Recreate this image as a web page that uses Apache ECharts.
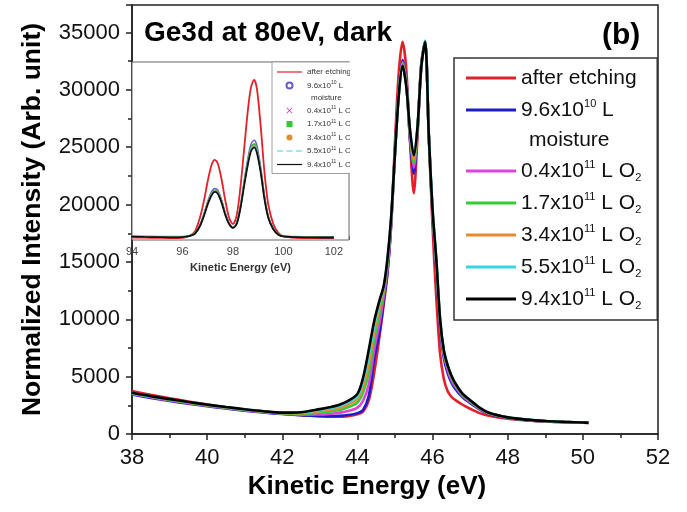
<!DOCTYPE html>
<html lang="en">
<head>
<meta charset="UTF-8">
<title>Ge3d at 80eV, dark</title>
<script src="https://cdn.jsdelivr.net/npm/echarts@6/dist/echarts.min.js"></script>
<style>
    html, body { margin: 0; padding: 0; background: #fff; }
    #main { width: 687px; height: 512px; }
</style>
</head>
<body>
<div id="main"></div>
<script>
// main plot: Ge3d spectra (kinetic energy, eV)
var energy = [38, 38.5, 39, 39.5, 40, 40.5, 41, 41.5, 42, 42.5, 43, 43.25, 43.5, 43.75, 44, 44.15, 44.3, 44.45, 44.6, 44.7,
    44.8, 44.9, 45.0, 45.1, 45.2, 45.3, 45.4, 45.5, 45.6, 45.7, 45.8, 45.9, 46.0, 46.1, 46.2, 46.3, 46.4, 46.5, 46.6, 46.8,
    47.0, 47.25, 47.5, 48, 48.5, 49, 49.5, 50, 50.15];

var afterEtching = [3750, 3420, 3120, 2840, 2570, 2330, 2110, 1920, 1760, 1630, 1540, 1500, 1500, 1560, 1720, 1950, 2900, 5400, 8800, 11300,
    14000, 18500, 25500, 31500, 34200, 31800, 25500, 21000, 26000, 32300, 34200, 26000, 18000, 11800, 7000, 4800, 3750, 3250, 2980, 2550,
    2200, 1820, 1600, 1340, 1190, 1090, 1030, 990, 970];
var moisture = [3450, 3150, 2880, 2640, 2420, 2220, 2030, 1870, 1740, 1640, 1580, 1560, 1580, 1650, 1820, 2100, 3300, 6600, 9100, 11600,
    14100, 18300, 24700, 30000, 32600, 30800, 25600, 22700, 26500, 32200, 34100, 26000, 19000, 14300, 9300, 6600, 5300, 4500, 3950, 3200,
    2700, 2150, 1750, 1400, 1210, 1100, 1040, 990, 970];
var o2_04 = [3500, 3200, 2930, 2690, 2460, 2260, 2070, 1900, 1770, 1690, 1700, 1750, 1850, 2000, 2300, 2900, 4300, 7400, 9900, 12000,
    14500, 18500, 24600, 29800, 32400, 30600, 25900, 23200, 26600, 32200, 34100, 26000, 19200, 14600, 9600, 6900, 5600, 4700, 4150, 3300,
    2800, 2200, 1780, 1420, 1230, 1110, 1050, 995, 975];
var o2_17 = [3550, 3240, 2970, 2720, 2490, 2290, 2100, 1940, 1800, 1760, 1850, 1950, 2080, 2330, 2750, 3600, 5300, 8300, 10700, 12400,
    14800, 18700, 24500, 29700, 32300, 30500, 26000, 23600, 26700, 32100, 34200, 26000, 19300, 14800, 9800, 7100, 5800, 4900, 4300, 3400,
    2870, 2250, 1810, 1430, 1240, 1120, 1055, 1000, 978];
var o2_34 = [3560, 3260, 3000, 2750, 2520, 2310, 2120, 1960, 1830, 1820, 1980, 2100, 2250, 2560, 3050, 4100, 6100, 9000, 11200, 12600,
    15000, 18800, 24500, 29600, 32200, 30400, 26200, 23900, 26700, 32000, 34200, 26000, 19400, 15000, 9900, 7200, 5900, 5000, 4380, 3450,
    2920, 2280, 1830, 1440, 1245, 1125, 1058, 1000, 979];
var o2_55 = [3580, 3280, 3020, 2770, 2540, 2330, 2140, 1980, 1850, 1870, 2100, 2250, 2420, 2750, 3300, 4600, 6800, 9500, 11600, 12800,
    15200, 19000, 24500, 29500, 32100, 30400, 26500, 24300, 26900, 32000, 34300, 26200, 19600, 15200, 10100, 7300, 6000, 5100, 4450, 3500,
    2950, 2300, 1850, 1450, 1250, 1130, 1060, 1000, 980];
var o2_94 = [3600, 3300, 3040, 2790, 2560, 2350, 2160, 1990, 1860, 1900, 2170, 2330, 2530, 2880, 3500, 4900, 7300, 9900, 11800, 12900,
    15300, 19000, 24500, 29500, 32100, 30300, 26500, 24300, 26800, 32000, 34200, 26000, 19500, 15200, 10000, 7300, 6000, 5100, 4450, 3500,
    2950, 2300, 1850, 1450, 1250, 1130, 1060, 1000, 980];

// inset: Cl2p at 300eV (arbitrary intensity scale 0-100)
var insetEnergy = [93.9, 94.5, 95, 95.5, 96, 96.3, 96.5, 96.7, 96.85, 97.0, 97.15, 97.28, 97.4, 97.55, 97.7, 97.85, 98.0, 98.15, 98.3, 98.45,
    98.6, 98.72, 98.84, 98.95, 99.1, 99.25, 99.4, 99.6, 99.8, 100.0, 100.5, 101, 101.5, 102];
var clAfterEtching = [1.5, 1.3, 1.2, 1.1, 1.2, 2.5, 5, 13, 22, 33, 42, 45, 43, 34, 22, 12.5, 9, 14, 30, 52,
    74, 86, 90, 85, 64, 38, 20, 9, 4, 2, 1.2, 1.1, 1, 1];
var clMoisture = [2.0, 1.8, 1.7, 1.6, 1.7, 2.4, 3.8, 8.6, 14.5, 21.5, 27, 29, 28, 22.5, 15, 9.5, 7.2, 9.6, 19.5, 33.5,
    46.5, 54, 56, 53, 41, 25, 13.5, 6.5, 3.2, 2.1, 1.7, 1.6, 1.5, 1.5];
var clO2_04 = [2.0, 1.8, 1.7, 1.6, 1.7, 2.4, 3.7, 8.4, 14.2, 21, 26.2, 28, 27, 22, 14.6, 9.3, 7.0, 9.4, 18.8, 32.4,
    45, 52, 54, 51, 39.5, 24, 13, 6.3, 3.1, 2.1, 1.7, 1.6, 1.5, 1.5];
var clO2_17 = [2.3, 2.1, 2.0, 1.9, 2.0, 2.6, 3.9, 8.5, 14.2, 21, 26.2, 28, 27, 22, 14.6, 9.4, 7.1, 9.5, 18.8, 32.4,
    45, 52, 54, 51, 39.5, 24, 13, 6.4, 3.3, 2.3, 1.9, 1.8, 1.7, 1.7];
var clO2_34 = [2.0, 1.8, 1.7, 1.6, 1.7, 2.3, 3.7, 8.2, 13.9, 20.6, 25.7, 27.5, 26.5, 21.5, 14.3, 9.2, 6.9, 9.2, 18.4, 31.8,
    44, 51, 53, 50, 38.8, 23.5, 12.8, 6.2, 3.1, 2.1, 1.7, 1.6, 1.5, 1.5];
var clO2_55 = [2.0, 1.8, 1.7, 1.6, 1.7, 2.3, 3.7, 8.2, 13.9, 20.6, 25.7, 27.5, 26.5, 21.5, 14.3, 9.2, 6.9, 9.2, 18.4, 31.8,
    44, 51, 53, 50, 38.8, 23.5, 12.8, 6.2, 3.1, 2.1, 1.7, 1.6, 1.5, 1.5];
var clO2_94 = [1.9, 1.7, 1.6, 1.5, 1.6, 2.3, 3.6, 8, 13.5, 20, 25, 27, 26, 21, 14, 9, 6.8, 9, 18, 31,
    43, 50, 52, 49, 38, 23, 12.5, 6, 3, 2, 1.6, 1.5, 1.4, 1.4];

// legend names and their rich-text labels
var seriesNames = ['after etching', '9.6x10^10 L', 'moisture', '0.4x10^11 L O2', '1.7x10^11 L O2', '3.4x10^11 L O2', '5.5x10^11 L O2', '9.4x10^11 L O2'];
var legendLabels = ['after etching', '9.6x10{sup|10} L', '{m|moisture}', '0.4x10{sup|11} L O{sub|2}', '1.7x10{sup|11} L O{sub|2}',
    '3.4x10{sup|11} L O{sub|2}', '5.5x10{sup|11} L O{sub|2}', '9.4x10{sup|11} L O{sub|2}'];
var seriesColors = ['#e3202a', '#1c1ccc', 'rgba(0,0,0,0)', '#e040e0', '#34cc34', '#e68a30', '#38d6e4', '#000000'];

var mainData = [afterEtching, moisture, null, o2_04, o2_17, o2_34, o2_55, o2_94];
var insetData = [clAfterEtching, clMoisture, null, clO2_04, clO2_17, clO2_34, clO2_55, clO2_94];
var insetColors = ['#e3202a', '#6a5ccc', 'rgba(0,0,0,0)', '#c040d0', '#34c834', '#e68a30', '#38d6e4', '#111111'];
var LINE_ICON = 'path://M0,0H25V1.2H0Z';
var DASH_ICON = 'path://M0,0H6V1.2H0ZM9.5,0H15.5V1.2H9.5ZM19,0H25V1.2H19Z';
var insetIcons = [LINE_ICON, 'emptyCircle', 'none', 'path://M0,1L1,0L5,4L9,0L10,1L6,5L10,9L9,10L5,6L1,10L0,9L4,5Z',
    'path://M0,0H1V1H0Z', 'circle', DASH_ICON, LINE_ICON];

var FONT = 'Liberation Sans';

function pairs(xs, ys) {
    return xs.map(function (x, i) {
        return [x, ys[i]];
    });
}

var series = [];
seriesNames.forEach(function (name, i) {
    series.push({
        type: 'line', name: name, xAxisIndex: 0, yAxisIndex: 0,
        data: mainData[i] ? pairs(energy, mainData[i]) : [],
        symbol: 'none', smooth: 0.3,
        color: seriesColors[i],
        lineStyle: {width: 2.6, color: seriesColors[i]},
        z: 2 + i
    });
});
seriesNames.forEach(function (name, i) {
    series.push({
        type: 'line', name: 'Cl ' + name, xAxisIndex: 1, yAxisIndex: 1,
        data: insetData[i] ? pairs(insetEnergy, insetData[i]) : [],
        symbol: 'none', smooth: 0.3,
        color: insetColors[i],
        lineStyle: {width: i === 0 || i === 7 ? 1.8 : 1.5, color: insetColors[i], type: i === 6 ? 'dashed' : 'solid'},
        z: 20 + i
    });
});

var labelMap = {};
seriesNames.forEach(function (name, i) {
    labelMap[name] = legendLabels[i];
    labelMap['Cl ' + name] = legendLabels[i];
});

var myChart = echarts.init(document.getElementById('main'), null, {renderer: 'canvas'});

var option = {
    animation: false,
    backgroundColor: '#fff',
    title: [
        {text: 'Ge3d at 80eV, dark', left: 139, top: 12, textStyle: {fontFamily: FONT, fontSize: 28, fontWeight: 'bold', color: '#000', lineHeight: 32}},
        {text: '(b)', left: 597, top: 14, textStyle: {fontFamily: FONT, fontSize: 30, fontWeight: 'bold', color: '#000', lineHeight: 34}},
        {text: 'Cl2p\nat 300eV', left: 137, top: 66, textStyle: {fontFamily: FONT, fontSize: 19, fontWeight: 'bold', color: '#000', lineHeight: 24}}
    ],
    grid: [
        {left: 132, right: 29, top: 5, bottom: 78, show: true, borderColor: '#222', borderWidth: 1.5, outerBoundsMode: 'none'},
        {left: 132, right: 338, top: 62, bottom: 272, show: true, backgroundColor: '#fff', borderColor: '#666', borderWidth: 1, z: 10, outerBoundsMode: 'none'}
    ],
    xAxis: [
        {
            type: 'value', gridIndex: 0, min: 38, max: 52, interval: 2,
            name: 'Kinetic Energy (eV)', nameLocation: 'middle', nameGap: 40, nameMoveOverlap: false,
            nameTextStyle: {fontFamily: FONT, fontSize: 26, fontWeight: 'bold', color: '#000', padding: [0, 56, 0, 0]},
            axisLine: {lineStyle: {color: '#222', width: 1.5}},
            axisTick: {inside: false, length: 6, lineStyle: {color: '#222', width: 1.5}},
            minorTick: {show: true, splitNumber: 2, length: 4, lineStyle: {color: '#222', width: 1.5}},
            axisLabel: {fontFamily: FONT, fontSize: 22, color: '#111', margin: 13},
            splitLine: {show: false}
        },
        {
            type: 'value', gridIndex: 1, min: 94, max: 102.6, interval: 2,
            name: 'Kinetic Energy (eV)', nameLocation: 'middle', nameGap: 22, nameMoveOverlap: false,
            nameTextStyle: {fontFamily: FONT, fontSize: 11, fontWeight: 'bold', color: '#333'},
            axisLine: {show: false},
            axisTick: {inside: true, length: 4, lineStyle: {color: '#666'}},
            minorTick: {show: true, splitNumber: 2, length: 3, lineStyle: {color: '#666'}},
            axisLabel: {fontFamily: FONT, fontSize: 11, color: '#444', margin: 6, showMaxLabel: false},
            splitLine: {show: false}
        }
    ],
    yAxis: [
        {
            type: 'value', gridIndex: 0, min: 0, max: 37400, interval: 5000,
            name: 'Normalized Intensity (Arb. unit)', nameLocation: 'middle', nameGap: 86, nameMoveOverlap: false,
            nameTextStyle: {fontFamily: FONT, fontSize: 26.5, fontWeight: 'bold', color: '#000'},
            axisLine: {show: true, lineStyle: {color: '#222', width: 1.5}},
            axisTick: {show: true, inside: false, length: 6, lineStyle: {color: '#222', width: 1.5}},
            minorTick: {show: true, splitNumber: 2, length: 4, lineStyle: {color: '#222', width: 1.5}},
            axisLabel: {
                fontFamily: FONT, fontSize: 22, color: '#111', margin: 12, showMaxLabel: false,
                formatter: function (v) { return String(v); }
            },
            splitLine: {show: false}
        },
        {
            type: 'value', gridIndex: 1, min: 0, max: 100,
            axisLine: {show: false}, axisTick: {show: false}, axisLabel: {show: false}, splitLine: {show: false}
        }
    ],
    legend: [
        {
            orient: 'vertical', left: 454, top: 58, selectedMode: false,
            data: seriesNames,
            icon: 'rect', itemWidth: 50, itemHeight: 3, itemGap: 8,
            padding: [8, 16, 9, 12],
            borderColor: '#333', borderWidth: 1.5, backgroundColor: '#fff',
            formatter: function (name) { return labelMap[name]; },
            textStyle: {
                fontFamily: FONT, fontSize: 21, color: '#111', lineHeight: 24,
                rich: {
                    sup: {fontFamily: FONT, fontSize: 11, color: '#111', lineHeight: 6, verticalAlign: 'top'},
                    sub: {fontFamily: FONT, fontSize: 11, color: '#111', lineHeight: 4, verticalAlign: 'bottom'},
                    m: {fontFamily: FONT, fontSize: 21, color: '#111', lineHeight: 18, padding: [0, 0, 0, 8]}
                }
            }
        },
        {
            orient: 'vertical', left: 272, top: 62, selectedMode: false, z: 12,
            data: seriesNames.map(function (name, i) {
                return {name: 'Cl ' + name, icon: insetIcons[i]};
            }),
            itemWidth: 25, itemHeight: 6, itemGap: 3.5,
            padding: [5, 30, 4, 5],
            borderColor: '#888', borderWidth: 0.8, backgroundColor: '#fff',
            formatter: function (name) { return labelMap[name]; },
            textStyle: {
                fontFamily: FONT, fontSize: 8, color: '#333', lineHeight: 10,
                rich: {
                    sup: {fontFamily: FONT, fontSize: 5, color: '#333', lineHeight: 2, verticalAlign: 'top'},
                    sub: {fontFamily: FONT, fontSize: 5, color: '#333', lineHeight: 2, verticalAlign: 'bottom'},
                    m: {fontFamily: FONT, fontSize: 8, color: '#333', lineHeight: 8, padding: [0, 0, 0, 4]}
                }
            }
        }
    ],
    // hides the part of the inset legend that runs past the inset frame
    graphic: [
        {type: 'rect', z: 100, shape: {x: 350, y: 58, width: 40, height: 120}, style: {fill: '#fff'}}
    ],
    series: series
};

myChart.setOption(option);
</script>
</body>
</html>
